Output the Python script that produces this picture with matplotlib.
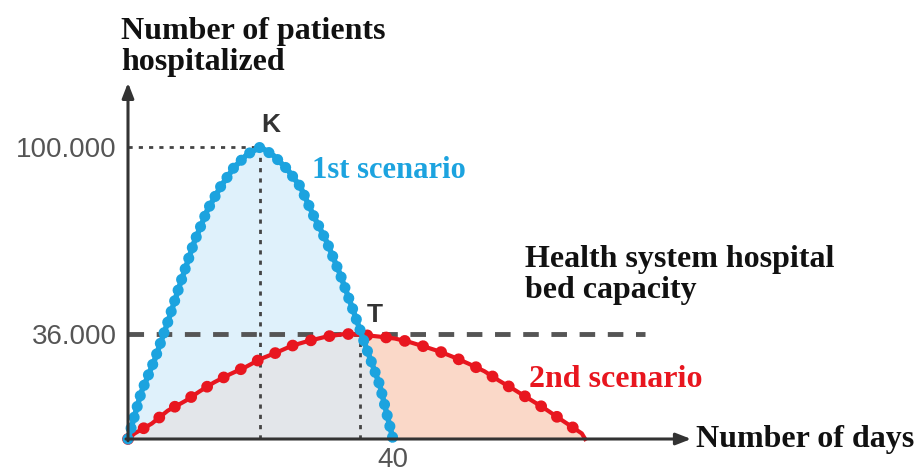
import numpy as np
import matplotlib
matplotlib.use("Agg")
import matplotlib.pyplot as plt

# values (days, patients)
blue_days = [0, 2, 4, 6, 8, 10, 12, 14, 16, 18, 20, 22, 24, 26, 28, 30, 32, 34, 36, 38, 40]
blue_vals = [0, 16000, 27000, 40000, 54000, 67500, 78500, 86500, 93000, 97500, 100000,
             97000, 92500, 86500, 76500, 67500, 56500, 44000, 31000, 18500, 0]

red_days = [0, 1.0, 3.6, 6.0, 8.7, 10.8, 13.0, 15.4, 17.8, 20.1, 22.2, 24.7, 27.1, 30.0, 32.8,
            35.2, 37.8, 40.3, 42.5, 44.8, 47.0, 49.3, 51.5, 53.8, 56.0, 58.3, 60.5, 62.8,
            65.2, 68.5, 69]
red_vals = [0, 1900, 5300, 9700, 13100, 16300, 19400, 22200, 24700, 27500, 29400, 31900,
            33500, 35100, 36000, 35700, 35100, 34400, 33200, 31600, 30000, 27900, 25700,
            23200, 20000, 16900, 13800, 10600, 6900, 1900, 0]

capacity = 36000
peak_day, peak_val = 20, 100000
t_day = 35
tick_day = 40

BLUE = "#1ca3df"
RED = "#e8161f"
AXC = "#333333"

fig = plt.figure(figsize=(9.14, 4.75), dpi=100)
ax = fig.add_axes([0, 0, 1, 1])
# pixel layout: origin at (128, 439), day 40 at x=393, 100000 at y=147
xs = 265 / 40.0
ys = 292 / 100000.0
ax.set_xlim(-128 / xs, (914 - 128) / xs)
ax.set_ylim(-(475 - 439) / ys, 439 / ys)

grid = np.linspace(0, 69, 800)
b = np.interp(grid, blue_days, blue_vals, right=0)
r = np.interp(grid, red_days, red_vals)
ax.fill_between(grid, 0, b, color="#dff1fb", lw=0, zorder=1)
ax.fill_between(grid, 0, r, color="#fad8c8", lw=0, zorder=1)
ax.fill_between(grid, 0, np.minimum(b, r), color="#e3e6ea", lw=0, zorder=1)

# guide lines
ax.plot([0, peak_day], [peak_val, peak_val], color="#444444", lw=2, ls=(0, (1.5, 2.2)), zorder=2)
ax.plot([peak_day, peak_day], [0, peak_val], color="#444444", lw=2, ls=(0, (1.5, 2.2)), zorder=2)
ax.plot([t_day, t_day], [0, capacity], color="#444444", lw=2, ls=(0, (1.5, 2.2)), zorder=2)
ax.plot([0, 78], [capacity, capacity], color="#555555", lw=3.5, ls=(0, (3.2, 2.6)), zorder=2)

# beaded curves
ax.plot(blue_days, blue_vals, color=BLUE, lw=4, zorder=4)
ax.plot(blue_days, blue_vals, color=BLUE, lw=8, ls=(0, (0.01, 1.0)),
        dash_capstyle="round", zorder=4)
ax.plot(red_days, red_vals, color=RED, lw=3, zorder=3)
ax.plot(red_days, red_vals, color=RED, lw=8.5, ls=(0, (0.01, 1.6)),
        dash_capstyle="round", zorder=3)

# axes with arrows
for s in ax.spines.values():
    s.set_visible(False)
ax.spines["left"].set_position(("data", 0))
ax.spines["bottom"].set_position(("data", 0))
ax.annotate("", xy=(0, 122000), xytext=(0, -600),
            arrowprops=dict(arrowstyle="-|>,head_length=0.9,head_width=0.35", color=AXC, lw=2.2,
                            shrinkA=0, shrinkB=0), zorder=5)
ax.annotate("", xy=(85, 0), xytext=(-0.3, 0),
            arrowprops=dict(arrowstyle="-|>,head_length=0.9,head_width=0.35", color=AXC, lw=2.2,
                            shrinkA=0, shrinkB=0), zorder=5)

ax.set_yticks([capacity, peak_val])
ax.set_yticklabels(["36.000", "100.000"])
ax.set_xticks([tick_day])
ax.set_xticklabels(["40"])
ax.tick_params(length=0, labelsize=20, labelcolor="#555555")
ax.tick_params(axis="y", pad=8)
ax.tick_params(axis="x", pad=6)
for lab in ax.get_xticklabels() + ax.get_yticklabels():
    lab.set_family("Liberation Sans")

serif = "Liberation Serif"
ax.text(-1, 134300, "Number of patients\nhospitalized", family=serif, weight="bold",
        fontsize=23, va="center", ha="left", linespacing=1.1, color="#111111")
ax.text(27.8, 92000, "1st scenario", family=serif, weight="bold", fontsize=22,
        color=BLUE, va="center", ha="left")
ax.text(59.9, 56300, "Health system hospital\nbed capacity", family=serif, weight="bold",
        fontsize=23, va="center", ha="left", linespacing=1.1, color="#111111")
ax.text(60.6, 20500, "2nd scenario", family=serif, weight="bold", fontsize=23,
        color=RED, va="center", ha="left")
ax.text(85.8, 0, "Number of days", family=serif, weight="bold", fontsize=23,
        va="center", ha="left", color="#111111")
ax.text(peak_day + 1.6, peak_val + 3500, "K", family="Liberation Sans", weight="bold",
        fontsize=19, color="#333333", va="bottom", ha="center")
ax.text(t_day + 2.3, capacity + 2500, "T", family="Liberation Sans", weight="bold",
        fontsize=19, color="#333333", va="bottom", ha="center")

fig.savefig("out.png", dpi=100)
